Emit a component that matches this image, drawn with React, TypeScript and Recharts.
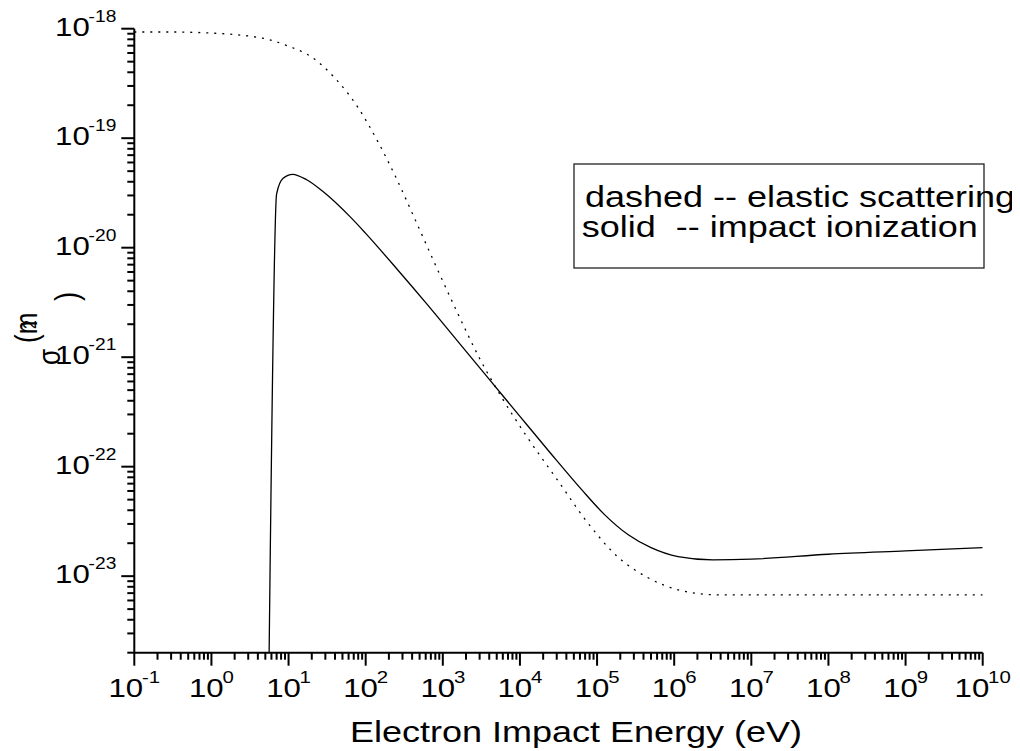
import React from 'react';
import { LineChart, Line, XAxis, YAxis, Customized } from 'recharts';

const FONT = '"Liberation Sans", Arial, Helvetica, sans-serif';
const STRETCH = 1.2;

// Elastic scattering (dotted)
const elasticEnergy = [0.1, 0.316, 1, 2.51, 5.62, 10, 20, 39.8, 79.4, 141, 251, 417, 759, 1514, 3020, 5495, 12300, 30200, 74100, 182000, 447000, 1.2e6, 3.55e6, 1e7, 1e8, 1e9, 1e10];
const elasticSigma = [9.33e-19, 9.33e-19, 9.12e-19, 8.71e-19, 7.94e-19, 6.92e-19, 5.5e-19, 3.55e-19, 1.91e-19, 9.55e-20, 4.27e-20, 1.95e-20, 7.59e-21, 2.63e-21, 9.66e-22, 4.57e-22, 1.88e-22, 7.67e-23, 3.13e-23, 1.52e-23, 9.77e-24, 7.41e-24, 6.76e-24, 6.76e-24, 6.76e-24, 6.76e-24, 6.76e-24];

// Impact ionization (solid)
const ionEnergy = [5.6, 7.0, 8.5, 11.3, 17.2, 28.2, 63.1, 100, 251, 631, 1585, 3981, 10000, 25120, 63100, 125900, 251200, 501200, 1.12e6, 3.16e6, 1e7, 1e8, 1e9, 1e10];
const ionSigma = [2e-24, 3.1e-20, 4.3e-20, 4.68e-20, 4.17e-20, 3.24e-20, 1.91e-20, 1.35e-20, 6.46e-21, 3.02e-21, 1.38e-21, 6.31e-22, 2.88e-22, 1.32e-22, 6.17e-23, 3.63e-23, 2.4e-23, 1.82e-23, 1.51e-23, 1.41e-23, 1.43e-23, 1.585e-23, 1.7e-23, 1.82e-23];

// Axes
const xMajorExponents = [-1, 0, 1, 2, 3, 4, 5, 6, 7, 8, 9, 10];
const yMajorExponents = [-23, -22, -21, -20, -19, -18];
const minorMultipliers = [2, 3, 4, 5, 6, 7, 8, 9];
const xDomain = [0.1, 1e10];
const yDomain = [2e-24, 1e-18];

const xTitle = 'Electron Impact Energy (eV)';
const legendLines = ['dashed -- elastic scattering', 'solid  -- impact ionization'];

const elasticData = elasticEnergy.map((e, i) => ({ e, s: elasticSigma[i] }));
const ionData = ionEnergy.map((e, i) => ({ e, s: ionSigma[i] }));

const buildTicks = (exps: number[], lo: number, hi: number) => {
  const out: number[] = [];
  const first = exps[0] - 1;
  const last = exps[exps.length - 1];
  for (let n = first; n <= last; n++) {
    const major = Number(`1e${n}`);
    if (major >= lo * 0.9999 && major <= hi * 1.0001) out.push(major);
    for (const k of minorMultipliers) {
      const v = Number(`${k}e${n}`);
      if (v >= lo * 0.9999 && v <= hi * 1.0001) out.push(v);
    }
  }
  return out;
};

const xTicks = buildTicks(xMajorExponents, xDomain[0], xDomain[1]);
const yTicks = buildTicks(yMajorExponents, yDomain[0], yDomain[1]);

const isMajor = (v: number) => {
  const lg = Math.log10(v);
  return Math.abs(lg - Math.round(lg)) < 1e-6;
};

const XTick = (props: any) => {
  const { x, y, payload } = props;
  const v = payload.value;
  const major = isMajor(v);
  const e = Math.round(Math.log10(v));
  return (
    <g>
      <line x1={x} x2={x} y1={y} y2={y + (major ? 13 : 7)} stroke="#000" strokeWidth={2} />
      {major && (
        <text transform={`translate(${x},${y + 44}) scale(${STRETCH},1)`} textAnchor="middle" fontFamily={FONT} fill="#000">
          <tspan fontSize={26}>10</tspan>
          <tspan fontSize={17} dx={-1} dy={-14}>{String(e)}</tspan>
        </text>
      )}
    </g>
  );
};

const YTick = (props: any) => {
  const { x, y, payload } = props;
  const v = payload.value;
  const major = isMajor(v);
  const e = Math.round(Math.log10(v));
  return (
    <g>
      <line x1={x} x2={x - (major ? 13 : 7)} y1={y} y2={y} stroke="#000" strokeWidth={2} />
      {major && (
        <text transform={`translate(${x - 18},${y + 7.3}) scale(${STRETCH},1)`} textAnchor="end" fontFamily={FONT} fill="#000">
          <tspan fontSize={26}>10</tspan>
          <tspan fontSize={16} dx={-1} dy={-14.3}>{String(e)}</tspan>
        </text>
      )}
    </g>
  );
};

const Overlay = () => (
  <g fontFamily={FONT} fill="#000">
    {/* legend box */}
    <rect x={566} y={156} width={410} height={104} fill="none" stroke="#222" strokeWidth={1.3} />
    <text transform={`translate(577,198.7) scale(${STRETCH},1)`} fontSize={30}>{legendLines[0]}</text>
    <text transform={`translate(573.7,229) scale(${STRETCH},1)`} fontSize={30} style={{ whiteSpace: 'pre' }}>{legendLines[1]}</text>
    {/* x title */}
    <text transform={`translate(342,733.7) scale(${STRETCH},1)`} fontSize={30}>{xTitle}</text>
    {/* y title (broken rendering of sigma (m^2)) */}
    <text transform={`translate(52,357) scale(${STRETCH},1) rotate(-90)`} fontSize={26}>σ</text>
    <text transform={`translate(29,335) scale(${STRETCH},1) rotate(-90)`} fontSize={26}>(m</text>
    <text transform={`translate(28,321) scale(${STRETCH},1) rotate(-90)`} fontSize={16}>2</text>
    <text transform={`translate(70,293) scale(${STRETCH},1) rotate(-90)`} fontSize={28}>)</text>
  </g>
);

export default function App() {
  const W = 1012;
  const H = 743;
  const yAxisW = 100;
  const xAxisH = 60;
  return (
    <div style={{ width: W, height: H }}>
      <LineChart
        width={W}
        height={H}
        margin={{ top: 20.7, right: W - 974.7, left: 126.3 - yAxisW, bottom: H - 644.7 - xAxisH }}
      >
        <XAxis
          type="number"
          dataKey="e"
          scale="log"
          domain={xDomain}
          allowDataOverflow
          ticks={xTicks}
          interval={0}
          tickLine={false}
          tickSize={0}
          tickMargin={0}
          height={xAxisH}
          axisLine={{ stroke: '#000', strokeWidth: 2 }}
          tick={XTick}
        />
        <YAxis
          type="number"
          dataKey="s"
          scale="log"
          domain={yDomain}
          allowDataOverflow
          ticks={yTicks}
          interval={0}
          tickLine={false}
          tickSize={0}
          tickMargin={0}
          width={yAxisW}
          axisLine={{ stroke: '#000', strokeWidth: 2 }}
          tick={YTick}
        />
        <Line
          data={elasticData}
          dataKey="s"
          type="monotone"
          stroke="#000"
          strokeWidth={1.3}
          strokeDasharray="2 6"
          dot={false}
          activeDot={false}
          isAnimationActive={false}
        />
        <Line
          data={ionData}
          dataKey="s"
          type="monotone"
          stroke="#000"
          strokeWidth={1.3}
          dot={false}
          activeDot={false}
          isAnimationActive={false}
        />
        <Customized component={Overlay} />
      </LineChart>
    </div>
  );
}
